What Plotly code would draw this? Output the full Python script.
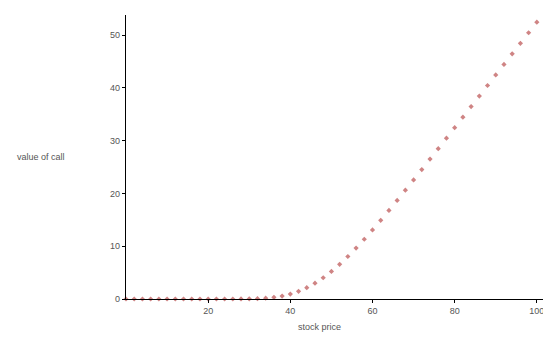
import plotly.graph_objects as go

stock_price = list(range(0, 101, 2))
call_value = [0.0, 0.0, 0.0, 0.0, 0.0, 0.0, 0.0, 0.0, 0.0, 0.0,
              0.0, 0.0, 0.0, 0.0, 0.01, 0.03, 0.07, 0.15, 0.31, 0.56,
              0.93, 1.45, 2.14, 2.99, 4.03, 5.23, 6.57, 8.05, 9.64, 11.32,
              13.09, 14.91, 16.77, 18.67, 20.61, 22.55, 24.52, 26.50, 28.48, 30.47,
              32.46, 34.45, 36.45, 38.44, 40.44, 42.44, 44.44, 46.44, 48.44, 50.44,
              52.44]
x_ticks = [20, 40, 60, 80, 100]
y_ticks = [0, 10, 20, 30, 40, 50]

fig = go.Figure()
fig.add_trace(go.Scatter(
    x=stock_price, y=call_value, mode="markers",
    marker=dict(symbol="diamond", size=4, color="#cf8484"),
    cliponaxis=False, showlegend=False,
))

font = dict(family="Liberation Sans, Arial, sans-serif", size=9, color="#555555")
fig.update_layout(
    width=543, height=341,
    margin=dict(l=126, r=0, t=15, b=42, autoexpand=False),
    paper_bgcolor="white", plot_bgcolor="white",
    font=font,
    xaxis=dict(range=[0, 101.5], tickvals=x_ticks, showgrid=False, zeroline=False,
               showline=True, linecolor="black", linewidth=1.2, automargin=False,
               ticks="outside", ticklen=3, tickcolor="black",
               ticklabeloverflow="allow"),
    yaxis=dict(range=[0, 53.8], tickvals=y_ticks, showgrid=False, zeroline=False,
               showline=True, linecolor="black", linewidth=1.2, automargin=False,
               ticks="outside", ticklen=3, tickcolor="black"),
    annotations=[
        dict(text="value of call", xref="paper", yref="y", x=-0.266, y=26.9,
             xanchor="left", yanchor="middle", showarrow=False, font=font),
        dict(text="stock price", xref="x", yref="paper", x=47.2, y=-0.1,
             xanchor="center", yanchor="middle", showarrow=False, font=font),
    ],
)
fig.write_html(
    "out.html",
    config={"displayModeBar": False},
    post_script="document.body.style.margin='0';document.body.style.overflow='hidden';",
)
